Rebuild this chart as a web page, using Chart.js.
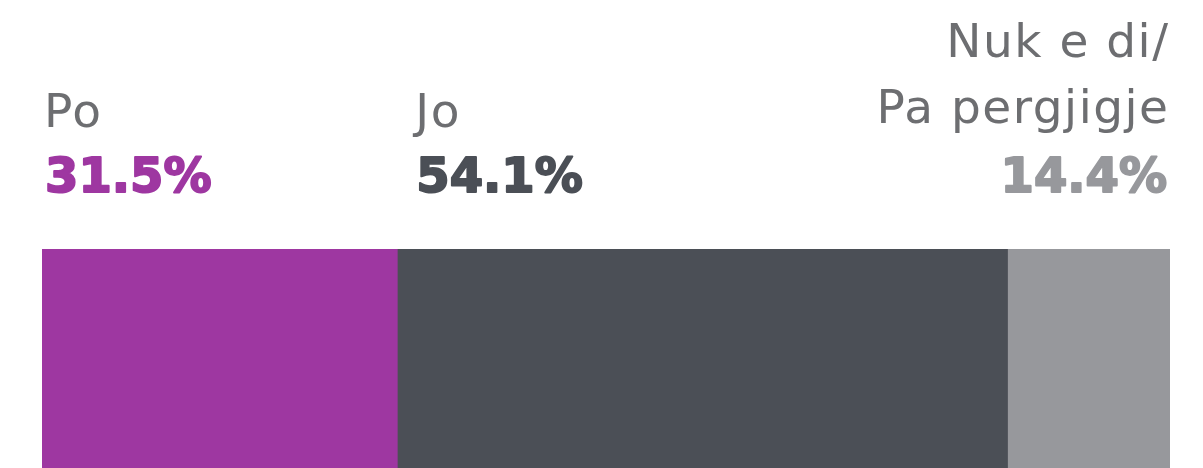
<!DOCTYPE html>
<html>
<head>
<meta charset="utf-8">
<script src="https://cdn.jsdelivr.net/npm/chart.js"></script>
<style>
    html, body { margin: 0; padding: 0; background: #ffffff; overflow: hidden; }
    #wrap { width: 1203px; height: 468px; position: relative; }
</style>
</head>
<body>
<div id="wrap"><canvas id="chart"></canvas></div>
<script>
// --- Datos ---
const categories = ["Po", "Jo", "Nuk e di/\nPa pergjigje"];
const shares = [31.5, 54.1, 14.4];
const colors = ["#9e37a1", "#4b4f56", "#97989c"];

const labelColor = "#6d6e71";
const lightFont = "normal 47px 'DejaVu Sans', sans-serif";
const boldFont = "bold 48px 'DejaVu Sans', sans-serif";
const lightSpacing = 1.5;

// etiquetas sobre cada segmento
const topLabels = {
    id: "topLabels",
    afterDraw(chart) {
        const ctx = chart.ctx;
        const x = chart.scales.x;
        let start = 0;
        ctx.save();
        shares.forEach((v, i) => {
            const x0 = x.getPixelForValue(start);
            const x1 = x.getPixelForValue(start + v);
            start += v;
            const last = i === shares.length - 1;
            const tx = last ? x1 - 2 : (i === 0 ? x0 + 2 : x0 + 18);
            ctx.textAlign = last ? "right" : "left";
            ctx.textBaseline = "alphabetic";
            const lines = categories[i].split("\n");
            const baseY = lines.length > 1 ? 123 : 127;
            ctx.font = lightFont;
            ctx.letterSpacing = lightSpacing + "px";
            ctx.fillStyle = labelColor;
            lines.forEach((line, j) => {
                const y = baseY - (lines.length - 1 - j) * 66;
                ctx.fillText(line, last ? tx + lightSpacing : tx, y);
            });
            // porcentaje en negrita, engrosado con un trazo
            const pct = v.toFixed(1) + "%";
            ctx.font = boldFont;
            ctx.letterSpacing = "0px";
            ctx.fillStyle = colors[i];
            ctx.strokeStyle = colors[i];
            ctx.lineWidth = 2;
            ctx.lineJoin = "round";
            const px = last ? tx - 1 : tx + 1;
            ctx.fillText(pct, px, 192);
            ctx.strokeText(pct, px, 192);
        });
        ctx.restore();
    },
};

const datasets = shares.map((v, i) => ({
    label: categories[i],
    data: [v],
    backgroundColor: colors[i],
    borderWidth: 0,
    barPercentage: 1,
    categoryPercentage: 1,
}));

new Chart(document.getElementById("chart"), {
    type: "bar",
    data: { labels: [""], datasets: datasets },
    options: {
        indexAxis: "y",
        responsive: true,
        maintainAspectRatio: false,
        animation: false,
        layout: { padding: { left: 42, right: 33, top: 249, bottom: 0 } },
        plugins: { legend: { display: false }, tooltip: { enabled: false } },
        scales: {
            x: { stacked: true, min: 0, max: 100, display: false },
            y: { stacked: true, display: false },
        },
    },
    plugins: [topLabels],
});
</script>
</body>
</html>
